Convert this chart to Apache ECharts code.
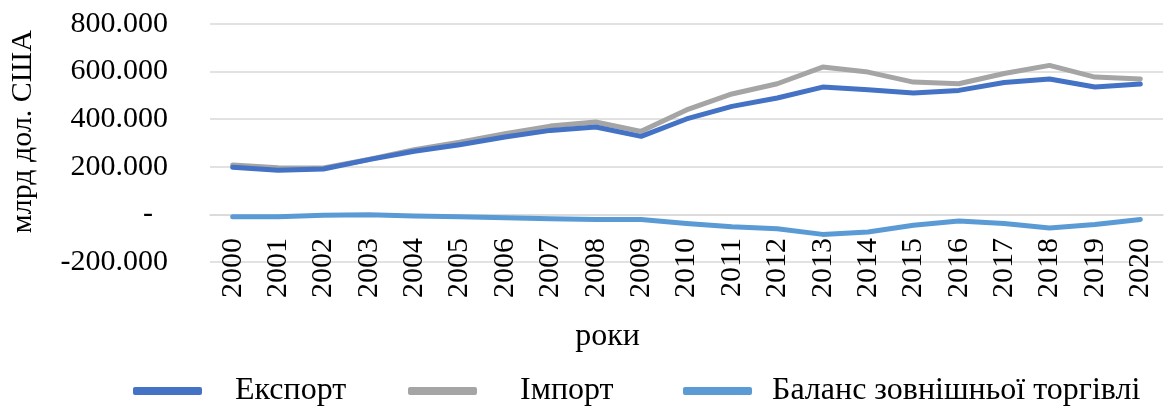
<!DOCTYPE html>
<html>
<head>
<meta charset="utf-8">
<script src="https://cdn.jsdelivr.net/npm/echarts@6/dist/echarts.min.js"></script>
<style>html,body{margin:0;padding:0;background:#fff;}#c{width:1167px;height:410px;}</style>
</head>
<body>
<div id="c"></div>
<script>
var years = ['2000','2001','2002','2003','2004','2005','2006','2007','2008','2009','2010','2011','2012','2013','2014','2015','2016','2017','2018','2019','2020'];
var exportVals = [198, 186, 191, 230, 265, 293, 325, 353, 367, 328, 401, 454, 489, 535, 524, 510, 521, 554, 569, 535, 548];
var importVals = [208, 196, 195, 231, 272, 303, 339, 371, 388, 349, 439, 506, 549, 619, 598, 556, 549, 592, 626, 577, 569];
var balanceVals = [-10, -10, -4, -1, -7, -10, -14, -18, -21, -21, -38, -52, -60, -84, -74, -46, -28, -38, -57, -42, -21];
var seriesNames = ['Експорт', 'Імпорт', 'Баланс зовнішньої торгівлі'];
var yTitle = 'млрд дол. США';
var xTitle = 'роки';

var FONT = '"Liberation Serif", "Times New Roman", serif';
var chart = echarts.init(document.getElementById('c'));
function legendAt(name, left, pad) {
  return {
    data: [name], left: left, top: 370, orient: 'horizontal',
    itemWidth: 69, itemHeight: 8, icon: 'roundRect',
    textStyle: { fontFamily: FONT, fontSize: 32, color: '#000', padding: [0, 0, 0, pad] }
  };
}
chart.setOption({
  backgroundColor: '#fff',
  animation: false,
  grid: { left: 209, right: 4, top: 24, bottom: 148, containLabel: false },
  legend: [legendAt(seriesNames[0], 128, 28), legendAt(seriesNames[1], 403, 38), legendAt(seriesNames[2], 678, 15)],
  xAxis: {
    type: 'category', data: years, boundaryGap: true, offset: -47,
    axisLine: { show: true, onZero: false, lineStyle: { color: '#D9D9D9', width: 1.5 } },
    axisTick: { show: false },
    axisLabel: { rotate: 90, margin: 23, fontFamily: FONT, fontSize: 30, color: '#000', interval: 0 },
    name: xTitle, nameLocation: 'middle', nameGap: 106, nameMoveOverlap: false,
    nameTextStyle: { fontFamily: FONT, fontSize: 32, color: '#000', padding: [0, 158, 0, 0] }
  },
  yAxis: {
    type: 'value', min: -200, max: 800, interval: 200,
    axisLine: { show: false }, axisTick: { show: false },
    splitLine: { lineStyle: { color: '#D9D9D9', width: 1.5 } },
    axisLabel: {
      margin: 42, fontFamily: FONT, fontSize: 30, color: '#000',
      formatter: function (v) { return v === 0 ? '-\u00a0\u00a0' : v + '.000'; }
    },
    name: '\u00a0\u00a0\u00a0' + yTitle, nameLocation: 'middle', nameGap: 172, nameRotate: 90, nameMoveOverlap: false,
    nameTextStyle: { fontFamily: FONT, fontSize: 30, color: '#000' }
  },
  series: [
    { name: seriesNames[0], type: 'line', data: exportVals, showSymbol: false, symbol: 'none',
      lineStyle: { color: '#4472C4', width: 5, cap: 'round', join: 'round' }, itemStyle: { color: '#4472C4' }, z: 3 },
    { name: seriesNames[1], type: 'line', data: importVals, showSymbol: false, symbol: 'none',
      lineStyle: { color: '#A5A5A5', width: 5, cap: 'round', join: 'round' }, itemStyle: { color: '#A5A5A5' }, z: 2 },
    { name: seriesNames[2], type: 'line', data: balanceVals, showSymbol: false, symbol: 'none',
      lineStyle: { color: '#5B9BD5', width: 5, cap: 'round', join: 'round' }, itemStyle: { color: '#5B9BD5' }, z: 2 }
  ]
});
</script>
</body>
</html>
